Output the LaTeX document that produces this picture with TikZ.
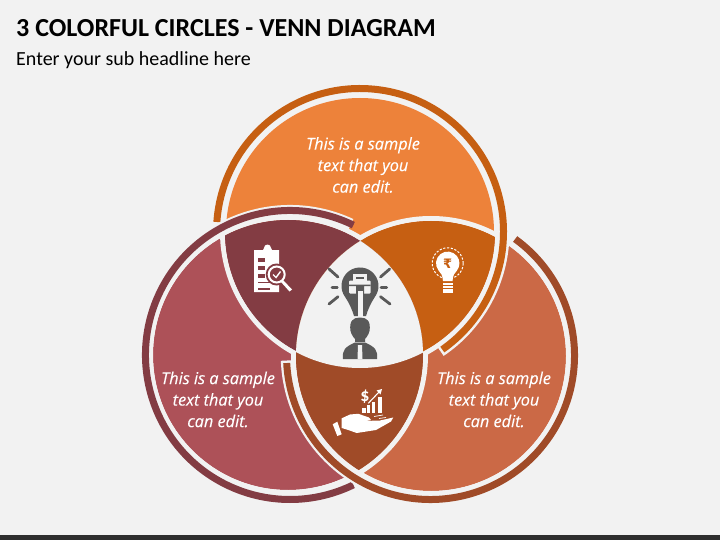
\documentclass[tikz,border=0pt]{standalone}
\usepackage{fontspec}
\setmainfont{Carlito}
\newfontfamily\blurbfont{Open Sans}[ItalicFeatures={FakeBold=0.2}]
\newfontfamily\symbfont{DejaVu Sans}
\definecolor{pagebg}{HTML}{F2F2F2}
\definecolor{barcol}{HTML}{2E2E2E}
\definecolor{orangecol}{HTML}{ED823A}
\definecolor{redcol}{HTML}{AD5158}
\definecolor{terracol}{HTML}{CB6946}
\definecolor{darkred}{HTML}{833C43}
\definecolor{darkorange}{HTML}{C65F12}
\definecolor{browncol}{HTML}{A04B28}
\definecolor{iconcol}{HTML}{595959}
\tikzset{
  halo/.style={draw=pagebg, line width=11.5pt},
  ring/.style={line width=7pt},
  gapline/.style={draw=pagebg, line width=5pt},
  blurb/.style={text=white, align=center, font=\blurbfont\itshape\fontsize{16.3}{21.5}\selectfont},
  ray/.style={draw=iconcol, line width=2.8pt, line cap=round}
}
\begin{document}
\begin{tikzpicture}[x=1pt, y=-1pt]

    \useasboundingbox (0, 0) rectangle (720, 540);
    \fill[pagebg] (0, 0) rectangle (720, 540);
    \fill[barcol] (0, 535) rectangle (720, 540);

    \coordinate (ft) at (360, 232);
    \coordinate (fl) at (288, 355);
    \coordinate (fr) at (431, 356);
    \coordinate (rt) at (360, 232);
    \coordinate (rl) at (290, 355);
    \coordinate (rr) at (430.5, 355.5);

    % discs
    \fill[orangecol] (ft) circle[radius=134pt];
    \fill[redcol] (fl) circle[radius=135pt];
    \fill[terracol] (fr) circle[radius=135pt];
    \draw[gapline] (ft) circle[radius=137.5pt];
    \draw[gapline] (fl) circle[radius=137.5pt];
    \draw[gapline] (fr) circle[radius=137.5pt];

    % overlaps
    \begin{scope}
      \clip (ft) circle[radius=135pt];
      \fill[darkred] (fl) circle[radius=135pt];
      \fill[darkorange] (fr) circle[radius=135pt];
      \clip (fl) circle[radius=135pt];
      \fill[pagebg] (fr) circle[radius=135pt];
    \end{scope}
    \begin{scope}
      \clip (fl) circle[radius=135pt];
      \clip (fr) circle[radius=135pt];
      \fill[browncol] (0, 0) rectangle (720, 540);
      \fill[pagebg] (ft) circle[radius=136pt];
    \end{scope}

    % rings
    \draw[halo] (rt) ++(177:143.75pt) arc[start angle=177, end angle=-56, radius=143.75pt];
    \draw[ring, darkorange] (rt) ++(176:143.5pt) arc[start angle=176, end angle=-55, radius=143.5pt];
    \draw[halo] (rl) ++(65:144.25pt) arc[start angle=65, end angle=297, radius=144.25pt];
    \draw[ring, darkred] (rl) ++(64:144.5pt) arc[start angle=64, end angle=296, radius=144.5pt];
    \draw[halo] (rr) ++(55:144pt) arc[start angle=55, end angle=-178, radius=144pt];
    \draw[ring, browncol] (rr) ++(54:144pt) arc[start angle=54, end angle=-177, radius=144pt];

    % titles
    \node[anchor=west, inner sep=0pt, font=\bfseries\fontsize{26}{30}\selectfont] (title) at (16, 28.5) {3 COLORFUL CIRCLES - VENN DIAGRAM};
    \node[anchor=west, inner sep=0pt, font=\fontsize{20}{24}\selectfont] (subtitle) at (16, 60) {Enter your sub headline here};

    % blurbs
    \node[blurb] (topblurb) at (363, 165) {This is a sample\\text that you\\can edit.};
    \node[blurb] (leftblurb) at (218, 399.5) {This is a sample\\text that you\\can edit.};
    \node[blurb] (rightblurb) at (494, 399.5) {This is a sample\\text that you\\can edit.};

    % centre icon
    \fill[iconcol] (345.2, 297.1) arc[start angle=217, end angle=-37, radius=18.5pt]
      .. controls (371, 303) and (368, 309) .. (366, 316) -- (354, 316)
      .. controls (352, 309) and (349, 303) .. (345.2, 297.1) -- cycle;
    \fill[pagebg] (352.5, 274) rectangle (367, 281);
    \fill[iconcol] (356, 277) rectangle (363.5, 279);
    \fill[pagebg, rounded corners=1pt] (349, 280.5) rectangle (370.5, 293.5);
    \fill[iconcol] (349, 284.5) -- (370.5, 284.5) -- (370.5, 286) -- (364, 286) -- (364, 294) -- (356, 294) -- (356, 286) -- (349, 286) -- cycle;
    \fill[pagebg] (357.5, 291) rectangle (362.5, 316.5);
    \draw[ray] (329, 269) -- (338, 277);
    \draw[ray] (332, 287.7) -- (337.3, 287.7);
    \draw[ray] (329, 304) -- (338, 296.7);
    \draw[ray] (389.7, 269) -- (380.5, 277);
    \draw[ray] (381, 287.7) -- (386.7, 287.7);
    \draw[ray] (390, 304) -- (380.5, 296.7);
    \fill[iconcol] (350.5, 331) .. controls (349, 321) and (353, 317.5) .. (360, 317.5)
      .. controls (367, 317.5) and (371, 321) .. (369.5, 331)
      .. controls (368.5, 335) and (366, 338) .. (365, 339) -- (365, 342) -- (355, 342) -- (355, 339)
      .. controls (354, 338) and (351.5, 335) .. (350.5, 331) -- cycle;
    \fill[iconcol] (343, 359) .. controls (342, 350) and (345, 347) .. (355, 342.5) -- (365, 342.5)
      .. controls (375, 347) and (378, 350) .. (377, 359) -- cycle;
    \fill[pagebg] (358, 345) -- (362, 345) -- (362.5, 359) -- (357.5, 359) -- cycle;

    % clipboard icon
    \fill[white] (254, 250) -- (263, 250) -- (264, 248) arc[start angle=180, end angle=0, radius=3.5pt] -- (272, 250) -- (279, 250) -- (279, 292) -- (254, 292) -- cycle;
    \fill[darkred] (257.7, 258) rectangle (265, 262);
    \fill[darkred] (257.7, 266) rectangle (265, 270);
    \fill[darkred] (257.7, 273.7) rectangle (265, 277.7);
    \fill[darkred] (257.7, 281.7) rectangle (277, 283.2);
    \fill[darkred] (257.7, 288) rectangle (270, 289.5);
    \fill[darkred] (276.7, 274.5) circle[radius=11pt];
    \draw[white, line width=2pt] (276.7, 274.5) circle[radius=8pt];
    \fill[white] (283, 280) -- (292, 289.5) -- (289.5, 291.5) -- (281, 282) -- cycle;
    \draw[white, line width=1.4pt] (273, 274.5) -- (276, 277.5) -- (280.5, 271.5);

    % rupee icon
    \draw[white, line width=1pt, dash pattern=on 2.2pt off 1.6pt] (447.7, 263.3) circle[radius=15.5pt];
    \fill[white] (438.5, 270.5) arc[start angle=218, end angle=-38, radius=11.7pt]
      .. controls (454.5, 273) and (453, 275) .. (452.5, 281) -- (443, 281)
      .. controls (442.5, 275) and (441, 273) .. (438.5, 270.5) -- cycle;
    \fill[white] (443, 283) rectangle (452.5, 284.5);
    \fill[white] (443, 286) rectangle (452.5, 287.5);
    \fill[white] (443, 289) rectangle (452.5, 292.5);
    \node[inner sep=0pt, text=darkorange, font=\symbfont\bfseries\fontsize{13}{13}\selectfont] (rupee) at (447.7, 263.5) {₹};

    % hand icon
    \node[inner sep=0pt, text=white, font=\bfseries\fontsize{18}{18}\selectfont] (dollar) at (365, 396.5) {\$};
    \fill[white] (362.3, 407.7) rectangle (365.7, 413.3);
    \fill[white] (366.7, 405) rectangle (370, 413.3);
    \fill[white] (371.7, 401.7) rectangle (375, 413.3);
    \fill[white] (377.7, 396.7) rectangle (381.7, 413.3);
    \draw[white, line width=1.1pt] (368.3, 403.3) -- (379.5, 391.5);
    \fill[white] (382, 389) -- (376.5, 390.5) -- (380.5, 394.5) -- cycle;
    \fill[white] (341.7, 418.3) -- (350, 414.5) -- (358.3, 413.8) -- (369, 417.5) -- (371, 420) -- (364, 421) -- (380, 420.5) -- (393.3, 417.5) -- (391, 421.5) -- (376, 430) -- (356.7, 433) -- (348.3, 430) -- (341.7, 428) -- cycle;
    \fill[white] (332.7, 424.3) -- (337.3, 421.7) -- (341.7, 434.3) -- (337.3, 436) -- cycle;
    \draw[white, line width=0.7pt] (374, 416.5) -- (383, 415);
    \draw[white, line width=0.7pt] (379, 418.5) -- (386, 417.5);

\end{tikzpicture}
\end{document}
